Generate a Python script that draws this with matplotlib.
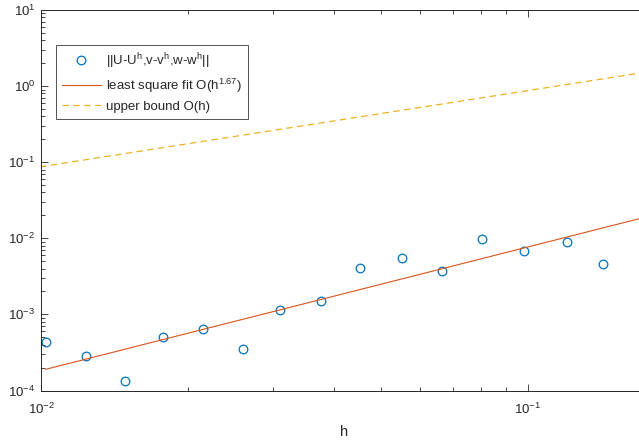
import numpy as np
import matplotlib
matplotlib.use("Agg")
import matplotlib.pyplot as plt
from matplotlib.ticker import LogLocator, NullFormatter

plt.rcParams['font.family'] = ['Liberation Sans', 'DejaVu Sans']
plt.rcParams['mathtext.fontset'] = 'custom'
plt.rcParams['mathtext.rm'] = 'Liberation Sans'
plt.rcParams['mathtext.it'] = 'Liberation Sans'
plt.rcParams['mathtext.default'] = 'regular'
plt.rcParams['lines.scale_dashes'] = False

# data
h = [0.01023, 0.01236, 0.01486, 0.01778, 0.02148, 0.02594, 0.03103, 0.03766,
     0.04529, 0.05502, 0.06668, 0.08035, 0.0981, 0.1205, 0.1426]
err = [4.40e-4, 2.83e-4, 1.32e-4, 5.01e-4, 6.37e-4, 3.56e-4, 1.13e-3, 1.52e-3,
       4.10e-3, 5.53e-3, 3.75e-3, 9.8e-3, 6.84e-3, 8.95e-3, 4.62e-3]
fit_coef = 0.324
fit_exp = 1.624
fit_range = [0.01023, 0.18]
bound_coef = 8.73
bound_range = [0.009, 0.18]

labels = ['||U-U$^h$,v-v$^h$,w-w$^h$||',
          'least square fit O(h$^{1.67}$)',
          'upper bound O(h)']

blue = '#0072BD'
orange = '#D95319'
yellow = '#EDB120'
dark = '#262626'

W, H = 639, 443
fig = plt.figure(figsize=(W/100, H/100), dpi=100)
left, right, top, bottom = 41, 648, 10, 390.5
ax = fig.add_axes([left/W, 1-bottom/H, (right-left)/W, (bottom-top)/H])
ax.set_xscale('log')
ax.set_yscale('log')

ax.plot(h, err, 'o', mfc='none', mec=blue, ms=6.2, mew=0.9, label=labels[0])
fx = np.array(fit_range)
ax.plot(fx, fit_coef*fx**fit_exp, '-', color=orange, lw=0.8, label=labels[1])
bx = np.array(bound_range)
ax.plot(bx, bound_coef*bx, color=yellow, lw=0.9, dashes=(4.6, 3.2), label=labels[2])

ax.set_xlim(0.01, 0.1764)
ax.set_ylim(1e-4, 1e1)

ax.xaxis.set_major_locator(LogLocator(base=10, numticks=10))
ax.xaxis.set_minor_locator(LogLocator(base=10, subs=np.arange(2, 10), numticks=20))
ax.yaxis.set_major_locator(LogLocator(base=10, numticks=10))
ax.yaxis.set_minor_locator(LogLocator(base=10, subs=np.arange(2, 10), numticks=20))
ax.xaxis.set_minor_formatter(NullFormatter())
ax.yaxis.set_minor_formatter(NullFormatter())

ax.tick_params(which='both', direction='in', top=True, right=True, colors=dark,
               width=0.6, labelsize=9.5, labelcolor=dark)
ax.tick_params(which='major', length=5)
ax.tick_params(which='minor', length=2.8)
ax.tick_params(axis='x', pad=8)
ax.tick_params(axis='y', pad=4)
for s in ax.spines.values():
    s.set_color(dark)
    s.set_linewidth(0.7)

ax.set_xlabel('h', fontsize=10.5, color=dark, labelpad=6)

leg = ax.legend(loc='upper left', bbox_to_anchor=(55.7/W, 1-45/H),
                bbox_transform=fig.transFigure, fontsize=9.5, frameon=True,
                fancybox=False, edgecolor=dark, handlelength=3.0,
                handletextpad=0.35, borderpad=0.45, labelspacing=0.45,
                borderaxespad=0)
leg.get_frame().set_linewidth(0.7)
for t in leg.get_texts():
    t.set_color(dark)

fig.savefig('out.png', dpi=100)
